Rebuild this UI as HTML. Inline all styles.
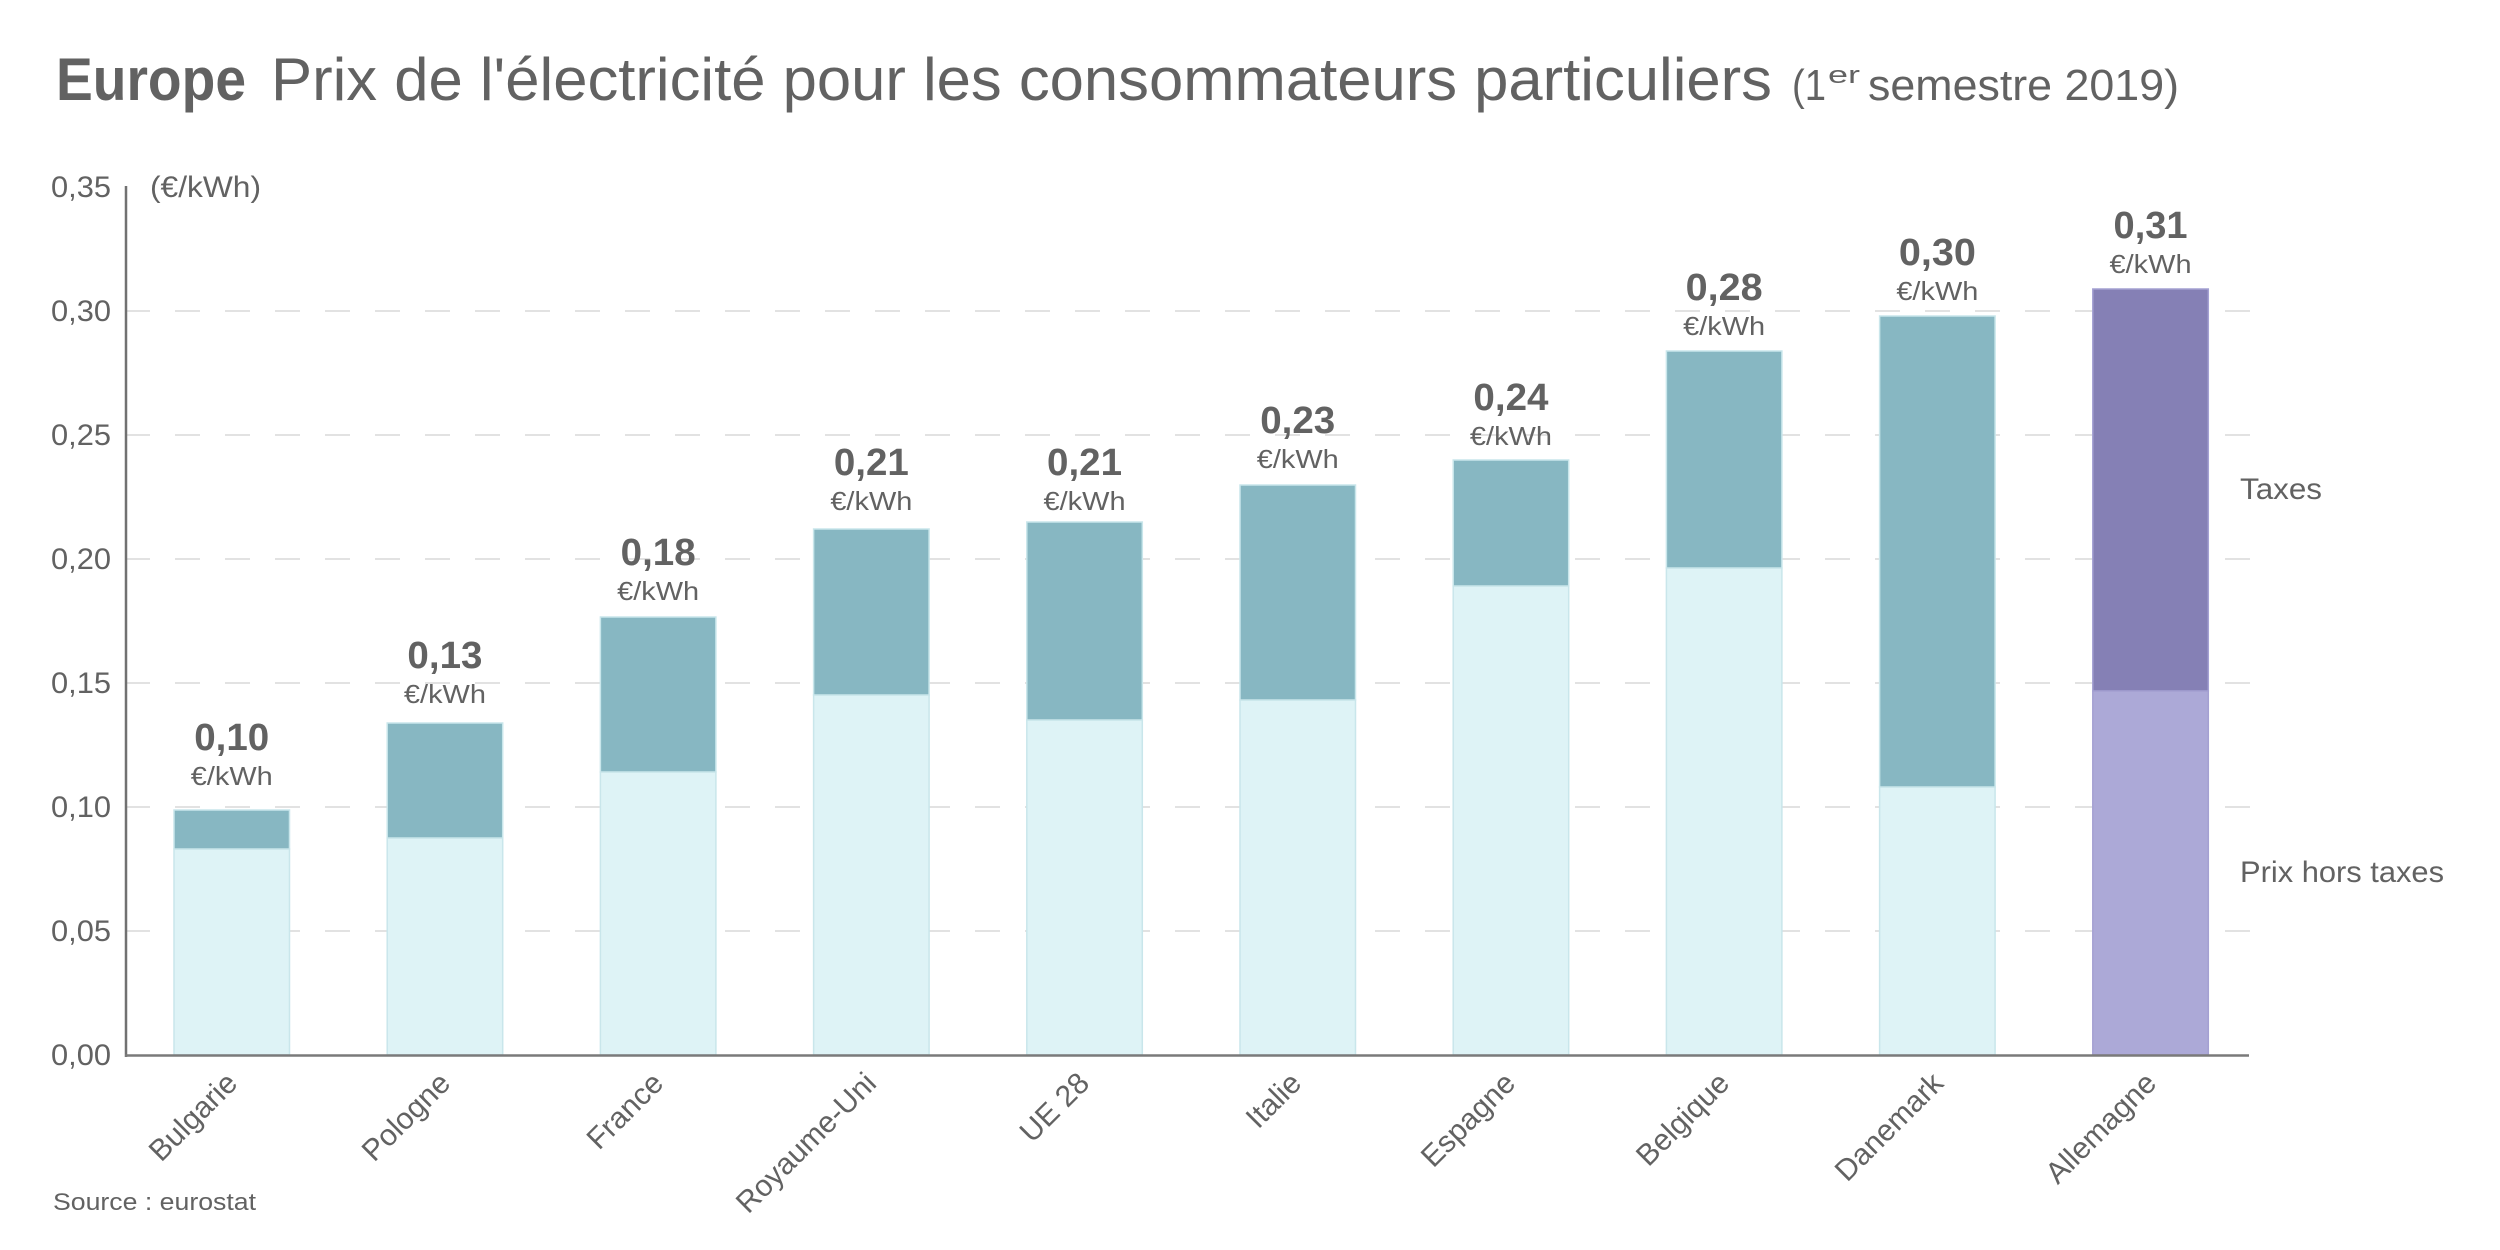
<!DOCTYPE html>
<html><head><meta charset="utf-8"><style>
html,body{margin:0;padding:0;background:#fff;}
svg{display:block;}
text{font-family:"Liberation Sans",sans-serif;fill:#626262;}
</style></head><body>
<svg width="2500" height="1250" viewBox="0 0 2500 1250" xmlns="http://www.w3.org/2000/svg">
<!-- title -->
<text x="56" y="100" font-size="60" font-weight="bold" textLength="190" lengthAdjust="spacingAndGlyphs" fill="#5e5e5e">Europe</text>
<text x="271" y="100" font-size="60" textLength="1501" lengthAdjust="spacingAndGlyphs">Prix de l'électricité pour les consommateurs particuliers</text>
<text x="1792" y="100" font-size="44" textLength="34" lengthAdjust="spacingAndGlyphs">(1</text>
<text x="1828" y="83" font-size="24" textLength="32" lengthAdjust="spacingAndGlyphs">er</text>
<text x="1868" y="100" font-size="44" textLength="311" lengthAdjust="spacingAndGlyphs">semestre 2019)</text>

<!-- gridlines -->
<g stroke="#e2e2e2" stroke-width="2" stroke-dasharray="25,25">
<line x1="125" y1="311" x2="2250" y2="311"/>
<line x1="125" y1="435" x2="2250" y2="435"/>
<line x1="125" y1="559" x2="2250" y2="559"/>
<line x1="125" y1="683" x2="2250" y2="683"/>
<line x1="125" y1="807" x2="2250" y2="807"/>
<line x1="125" y1="931" x2="2250" y2="931"/>
</g>

<!-- y labels -->
<g font-size="30" text-anchor="end">
<text x="111" y="197" textLength="60" lengthAdjust="spacingAndGlyphs">0,35</text>
<text x="111" y="321" textLength="60" lengthAdjust="spacingAndGlyphs">0,30</text>
<text x="111" y="445" textLength="60" lengthAdjust="spacingAndGlyphs">0,25</text>
<text x="111" y="569" textLength="60" lengthAdjust="spacingAndGlyphs">0,20</text>
<text x="111" y="693" textLength="60" lengthAdjust="spacingAndGlyphs">0,15</text>
<text x="111" y="817" textLength="60" lengthAdjust="spacingAndGlyphs">0,10</text>
<text x="111" y="941" textLength="60" lengthAdjust="spacingAndGlyphs">0,05</text>
<text x="111" y="1065" textLength="60" lengthAdjust="spacingAndGlyphs">0,00</text>
</g>
<text x="150" y="197" font-size="30" textLength="111" lengthAdjust="spacingAndGlyphs">(€/kWh)</text>

<!-- bars -->
<g stroke-width="1.5">
<rect x="174" y="849" width="115.5" height="206" fill="#def3f6" stroke="#c9e6eb"/>
<rect x="174" y="810" width="115.5" height="39" fill="#87b7c2" stroke="#c9e6eb"/>

<rect x="387.2" y="838" width="115.5" height="217" fill="#def3f6" stroke="#c9e6eb"/>
<rect x="387.2" y="723" width="115.5" height="115" fill="#87b7c2" stroke="#c9e6eb"/>

<rect x="600.4" y="772" width="115.5" height="283" fill="#def3f6" stroke="#c9e6eb"/>
<rect x="600.4" y="617" width="115.5" height="155" fill="#87b7c2" stroke="#c9e6eb"/>

<rect x="813.6" y="695" width="115.5" height="360" fill="#def3f6" stroke="#c9e6eb"/>
<rect x="813.6" y="529" width="115.5" height="166" fill="#87b7c2" stroke="#c9e6eb"/>

<rect x="1026.8" y="720" width="115.5" height="335" fill="#def3f6" stroke="#c9e6eb"/>
<rect x="1026.8" y="522" width="115.5" height="198" fill="#87b7c2" stroke="#c9e6eb"/>

<rect x="1240" y="700" width="115.5" height="355" fill="#def3f6" stroke="#c9e6eb"/>
<rect x="1240" y="485" width="115.5" height="215" fill="#87b7c2" stroke="#c9e6eb"/>

<rect x="1453.2" y="586" width="115.5" height="469" fill="#def3f6" stroke="#c9e6eb"/>
<rect x="1453.2" y="460" width="115.5" height="126" fill="#87b7c2" stroke="#c9e6eb"/>

<rect x="1666.4" y="568" width="115.5" height="487" fill="#def3f6" stroke="#c9e6eb"/>
<rect x="1666.4" y="351" width="115.5" height="217" fill="#87b7c2" stroke="#c9e6eb"/>

<rect x="1879.6" y="787" width="115.5" height="268" fill="#def3f6" stroke="#c9e6eb"/>
<rect x="1879.6" y="316" width="115.5" height="471" fill="#87b7c2" stroke="#c9e6eb"/>

<rect x="2092.8" y="691" width="115.5" height="364" fill="#aca9d7" stroke="#a4a0d2"/>
<rect x="2092.8" y="289" width="115.5" height="402" fill="#8580b5" stroke="#a4a0d2"/>
</g>

<!-- axes -->
<line x1="126" y1="186" x2="126" y2="1057" stroke="#717171" stroke-width="2.5"/>
<line x1="125" y1="1055.5" x2="2249" y2="1055.5" stroke="#7a7a7a" stroke-width="2.5"/>

<!-- value labels -->
<g text-anchor="middle">
<g font-size="38" font-weight="bold" fill="#5e5e5e">
<text x="231.75" y="750" textLength="75" lengthAdjust="spacingAndGlyphs">0,10</text>
<text x="444.95" y="668" textLength="75" lengthAdjust="spacingAndGlyphs">0,13</text>
<text x="658.15" y="565" textLength="75" lengthAdjust="spacingAndGlyphs">0,18</text>
<text x="871.35" y="475" textLength="75" lengthAdjust="spacingAndGlyphs">0,21</text>
<text x="1084.55" y="475" textLength="75" lengthAdjust="spacingAndGlyphs">0,21</text>
<text x="1297.75" y="433" textLength="75" lengthAdjust="spacingAndGlyphs">0,23</text>
<text x="1510.95" y="410" textLength="75" lengthAdjust="spacingAndGlyphs">0,24</text>
<text x="1724.15" y="300" textLength="77" lengthAdjust="spacingAndGlyphs">0,28</text>
<text x="1937.35" y="265" textLength="77" lengthAdjust="spacingAndGlyphs">0,30</text>
<text x="2150.55" y="238" textLength="74" lengthAdjust="spacingAndGlyphs">0,31</text>
</g>
<g font-size="26">
<text x="231.75" y="785" textLength="82" lengthAdjust="spacingAndGlyphs">€/kWh</text>
<text x="444.95" y="703" textLength="82" lengthAdjust="spacingAndGlyphs">€/kWh</text>
<text x="658.15" y="600" textLength="82" lengthAdjust="spacingAndGlyphs">€/kWh</text>
<text x="871.35" y="510" textLength="82" lengthAdjust="spacingAndGlyphs">€/kWh</text>
<text x="1084.55" y="510" textLength="82" lengthAdjust="spacingAndGlyphs">€/kWh</text>
<text x="1297.75" y="468" textLength="82" lengthAdjust="spacingAndGlyphs">€/kWh</text>
<text x="1510.95" y="445" textLength="82" lengthAdjust="spacingAndGlyphs">€/kWh</text>
<text x="1724.15" y="335" textLength="82" lengthAdjust="spacingAndGlyphs">€/kWh</text>
<text x="1937.35" y="300" textLength="82" lengthAdjust="spacingAndGlyphs">€/kWh</text>
<text x="2150.55" y="273" textLength="82" lengthAdjust="spacingAndGlyphs">€/kWh</text>
</g>
</g>

<!-- x labels -->
<g font-size="30" text-anchor="end">
<text transform="translate(239,1085) rotate(-45)">Bulgarie</text>
<text transform="translate(452,1085) rotate(-45)">Pologne</text>
<text transform="translate(665,1085) rotate(-45)">France</text>
<text transform="translate(878,1085) rotate(-45)">Royaume-Uni</text>
<text transform="translate(1091,1085) rotate(-45)">UE 28</text>
<text transform="translate(1303,1085) rotate(-45)">Italie</text>
<text transform="translate(1517,1085) rotate(-45)">Espagne</text>
<text transform="translate(1731,1085) rotate(-45)">Belgique</text>
<text transform="translate(1945,1085) rotate(-45)">Danemark</text>
<text transform="translate(2158,1085) rotate(-45)">Allemagne</text>
</g>

<!-- legend -->
<text x="2240" y="499" font-size="30" textLength="82" lengthAdjust="spacingAndGlyphs">Taxes</text>
<text x="2240" y="882" font-size="30" textLength="204" lengthAdjust="spacingAndGlyphs">Prix hors taxes</text>

<!-- source -->
<text x="53" y="1210" font-size="24" textLength="203" lengthAdjust="spacingAndGlyphs">Source : eurostat</text>
</svg>
</body></html>
